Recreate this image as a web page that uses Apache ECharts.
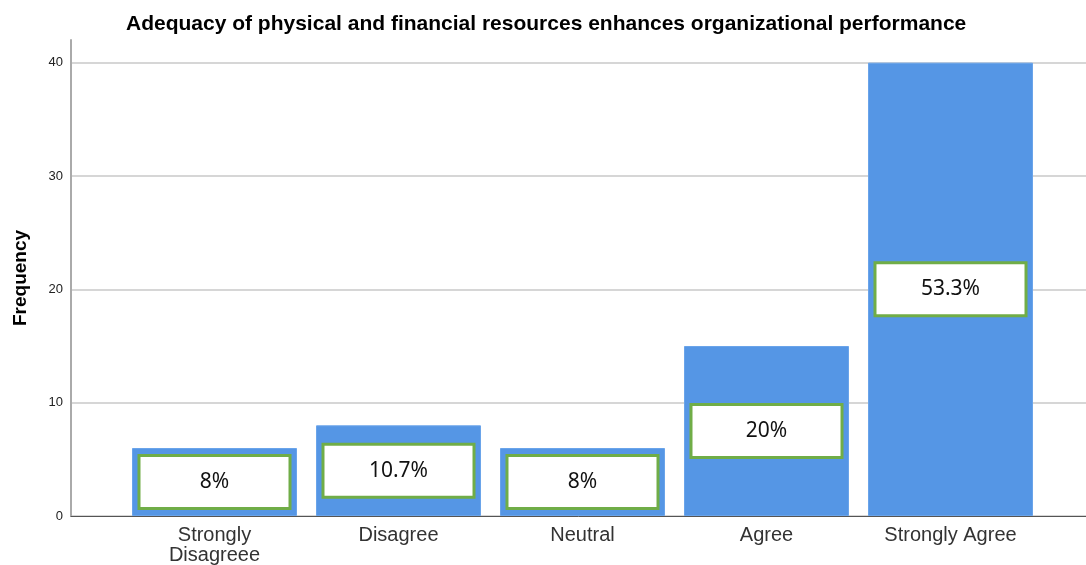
<!DOCTYPE html>
<html>
<head>
<meta charset="utf-8">
<script src="https://cdn.jsdelivr.net/npm/echarts@6/dist/echarts.min.js"></script>
<style>
  html, body { margin: 0; padding: 0; background: #fff; }
  #chart { width: 1086px; height: 565px; }
</style>
</head>
<body>
<div id="chart"></div>
<script>
// data
const categories = ['Strongly\nDisagreee', 'Disagree', 'Neutral', 'Agree', 'Strongly Agree'];
const frequencies = [6, 8, 6, 15, 40];
const percentLabels = ['8%', '10.7%', '8%', '20%', '53.3%'];
const yTicks = [0, 10, 20, 30, 40];

const chart = echarts.init(document.getElementById('chart'));

const yMax = 42;
const font = 'Liberation Sans, Arial, sans-serif';

const option = {
  animation: false,
  title: {
    text: 'Adequacy of physical and financial resources enhances organizational performance',
    left: 121,
    top: 9,
    textStyle: { fontFamily: font, fontSize: 21, fontWeight: 'bold', color: '#000' }
  },
  grid: [
    // bars
    { left: 122.5, width: 920, top: 40, bottom: 49, outerBoundsMode: 'none', containLabel: false },
    // full-width frame: gridlines, y axis, base line
    { left: 71, right: 0, top: 40, bottom: 49, outerBoundsMode: 'none', containLabel: false }
  ],
  xAxis: [
    {
      gridIndex: 0,
      type: 'category',
      data: categories,
      axisLine: { show: false },
      axisTick: { show: false },
      axisLabel: {
        fontFamily: font,
        fontSize: 20,
        lineHeight: 20,
        color: '#333',
        margin: 9,
        interval: 0
      }
    },
    {
      gridIndex: 1,
      type: 'value',
      min: 0,
      max: 1,
      axisLine: { show: true, onZero: false, lineStyle: { color: '#555', width: 1 } },
      axisTick: { show: false },
      axisLabel: { show: false },
      splitLine: { show: false }
    }
  ],
  yAxis: [
    {
      gridIndex: 0,
      type: 'value',
      min: 0,
      max: yMax,
      show: false
    },
    {
      gridIndex: 1,
      type: 'value',
      min: 0,
      max: yMax,
      interval: 10,
      name: 'Frequency',
      nameLocation: 'middle',
      nameGap: 41,
      nameTextStyle: { fontFamily: font, fontSize: 19, fontWeight: 'bold', color: '#000' },
      axisLine: { show: true, lineStyle: { color: '#aaa', width: 2 } },
      axisTick: { show: false },
      axisLabel: {
        fontFamily: font,
        fontSize: 13,
        color: '#222',
        margin: 8,
        formatter: v => (yTicks.indexOf(v) >= 0 ? String(v) : '')
      },
      splitLine: {
        show: true,
        lineStyle: { color: ['#c8c8c8', '#c8c8c8', '#c8c8c8', '#c8c8c8', '#c8c8c8', 'rgba(0,0,0,0)'], width: 1.5 }
      }
    }
  ],
  series: [
    {
      type: 'bar',
      xAxisIndex: 0,
      yAxisIndex: 0,
      data: frequencies,
      barWidth: 165,
      itemStyle: { color: '#5596e5', borderColor: '#6aa4ea', borderWidth: 1 },
      label: {
        show: true,
        position: 'inside',
        formatter: p => percentLabels[p.dataIndex],
        fontFamily: 'Noto Sans, Open Sans, sans-serif',
        fontSize: 21,
        color: '#111',
        backgroundColor: '#fff',
        borderColor: '#70ad47',
        borderWidth: 3,
        width: 148,
        height: 50,
        lineHeight: 50,
        align: 'center',
        verticalAlign: 'middle'
      },
      z: 3
    }
  ]
};

chart.setOption(option);
</script>
</body>
</html>
